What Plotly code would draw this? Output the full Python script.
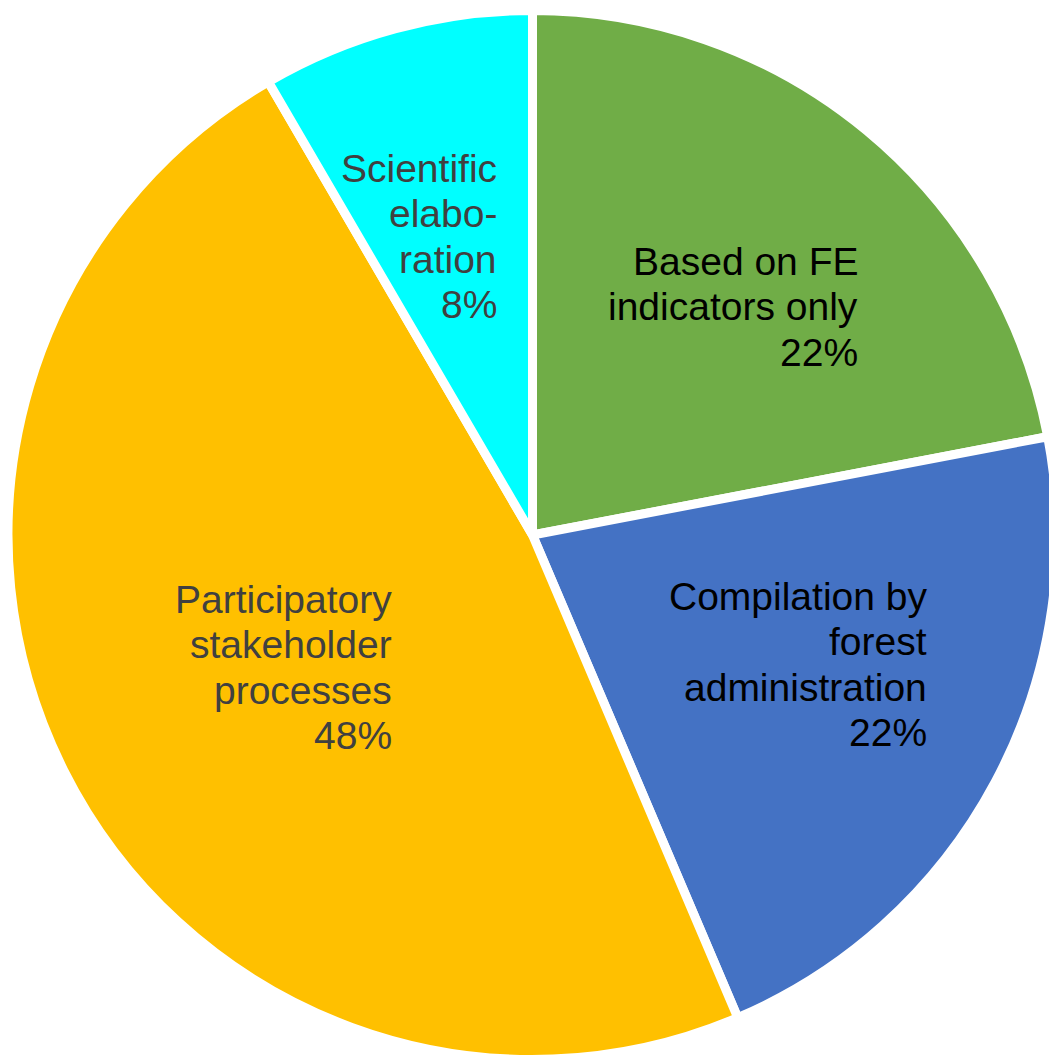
import plotly.graph_objects as go

# ---- data ----
categories = ["Based on FE indicators only", "Compilation by forest administration",
              "Participatory stakeholder processes", "Scientific elaboration"]
values = [22.0, 21.6, 48.0, 8.4]
label_lines = [["Based on FE", "indicators only"],
               ["Compilation by", "forest", "administration"],
               ["Participatory", "stakeholder", "processes"],
               ["Scientific", "elabo-", "ration"]]
colors = ["#70AD47", "#4472C4", "#FFC000", "#00FFFF"]
text_colors = ["#000000", "#000000", "#404040", "#404040"]

# label anchor (right edge, first-line baseline) in page pixels
label_pos = [(860, 275), (929, 610), (394, 613), (499, 182)]

OFF = 8  # default body margin of the html page
W, H = 1057 - OFF, 1061 - OFF
FONT = 39
LINE = 45.5

fig = go.Figure(go.Pie(
    labels=categories,
    values=values,
    sort=False,
    direction="clockwise",
    rotation=0,
    textinfo="none",
    hoverinfo="label+percent",
    marker=dict(colors=colors, line=dict(color="white", width=9)),
    domain=dict(x=[0.0, 1.0], y=[1 - 1051.5 / H, 1 - 2.5 / H]),
    showlegend=False,
))

total = sum(values)
annotations = []
for lines, val, (xr, yb), tc in zip(label_lines, values, label_pos, text_colors):
    all_lines = lines + [f"{round(val / total * 100):.0f}%"]
    for i, ln in enumerate(all_lines):
        ymid = yb + i * LINE - 0.35 * FONT - OFF
        annotations.append(dict(
            x=(xr - OFF) / W, y=1 - ymid / H, xref="paper", yref="paper",
            text=ln, showarrow=False, xanchor="right", yanchor="middle",
            align="right",
            font=dict(family="Liberation Sans, Arial, sans-serif", size=FONT, color=tc),
        ))

fig.update_layout(
    width=W, height=H,
    margin=dict(l=0, r=0, t=0, b=0),
    paper_bgcolor="white",
    plot_bgcolor="white",
    annotations=annotations,
)

fig.write_html("out.html")
